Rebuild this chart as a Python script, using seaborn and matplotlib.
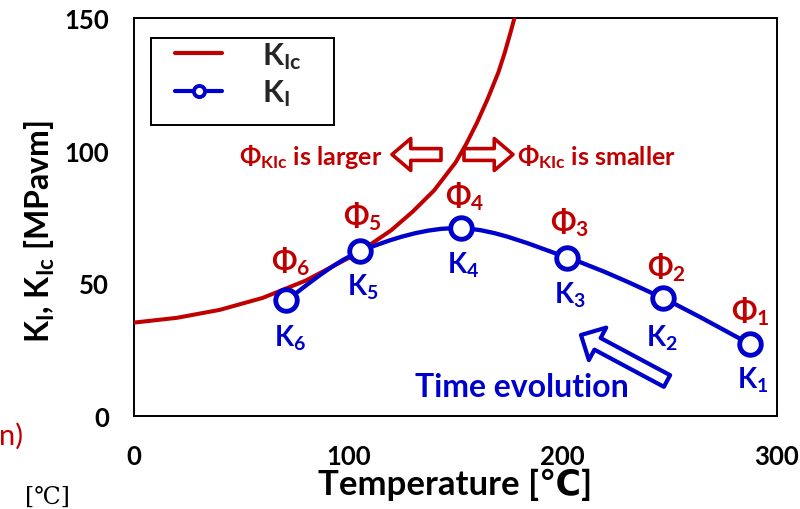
import numpy as np
import pandas as pd
import matplotlib
matplotlib.use("Agg")
import matplotlib.pyplot as plt
import matplotlib.patches as mpatches
from matplotlib.lines import Line2D
from matplotlib.path import Path
import seaborn as sns

# ---------------- data ----------------
kic_temp = [0, 20, 40, 60, 80, 100, 110, 120, 130, 140, 150, 155, 160, 165, 170, 173, 176, 178]
kic_vals = [35.2, 37.0, 40.0, 44.5, 51.0, 59.5, 64.5, 70.0, 77.0, 85.0, 95.5, 102.5, 110.5, 119.5,
            129.5, 137.0, 145.5, 151.5]

ki_temp = [287.6, 247.0, 202.2, 152.5, 105.4, 71.1]   # K1 ... K6
ki_vals = [27.0, 44.3, 59.7, 70.8, 62.0, 43.6]
point_ids = ["1", "2", "3", "4", "5", "6"]

x_ticks = [0, 100, 200, 300]
y_ticks = [0, 50, 100, 150]

# label offsets from each marker (pixels, +y downward)
k_off = [(2, 35), (-2, 39), (2, 37), (2, 36), (2.5, 35), (4, 37)]
phi_off = [(0, -34), (3, -32), (2, -36), (4, -33), (2, -36), (4, -40)]

RED = "#C00000"
BLUE = "#0000CC"
W = "bold"

sns.set_style("white")
plt.rcParams["font.family"] = ["Lato", "DejaVu Sans"]
plt.rcParams["font.weight"] = W
plt.rcParams["mathtext.fontset"] = "custom"
for k in ["rm", "it", "bf", "sf"]:
    plt.rcParams["mathtext." + k] = "Lato:weight=bold"

fig = plt.figure(figsize=(8, 5.1), dpi=100)
ax = fig.add_axes([134 / 800, 1 - 417 / 510, (777 - 134) / 800, (417 - 19) / 510])

# red K_Ic curve
df_kic = pd.DataFrame({"T": kic_temp, "K": kic_vals})
sns.lineplot(data=df_kic, x="T", y="K", color=RED, lw=2.9, ax=ax, sort=True,
             legend=False, zorder=3)

# blue K_I: smoothed connecting curve (Bezier through the data points)
order = np.argsort(ki_temp)
P = np.column_stack([np.array(ki_temp)[order], np.array(ki_vals)[order]])
verts = [tuple(P[0])]
codes = [Path.MOVETO]
n = len(P)
for i in range(n - 1):
    pm = P[i - 1] if i > 0 else P[i]
    pp = P[i + 2] if i + 2 < n else P[i + 1]
    c1 = P[i] + (P[i + 1] - pm) / 6.0
    c2 = P[i + 1] - (pp - P[i]) / 6.0
    verts += [tuple(c1), tuple(c2), tuple(P[i + 1])]
    codes += [Path.CURVE4] * 3
ax.add_patch(mpatches.PathPatch(Path(verts, codes), fill=False, ec=BLUE, lw=3.1,
                                zorder=4, capstyle="round"))

df_ki = pd.DataFrame({"T": ki_temp, "K": ki_vals})
sns.lineplot(data=df_ki, x="T", y="K", ax=ax, sort=False, legend=False,
             linestyle="none", marker="o", markersize=15.5, markerfacecolor="white",
             markeredgecolor=BLUE, markeredgewidth=3.5, color=BLUE, zorder=5)

px = 0.72
for t, v, pid, ko, po in zip(ki_temp, ki_vals, point_ids, k_off, phi_off):
    ax.annotate("K$_{%s}$" % pid, xy=(t, v), xytext=(ko[0] * px, -ko[1] * px),
                textcoords="offset points", ha="center", va="center",
                color=BLUE, fontsize=20, fontweight=W, zorder=6)
    ax.annotate("Φ$_{%s}$" % pid, xy=(t, v), xytext=(po[0] * px, -po[1] * px),
                textcoords="offset points", ha="center", va="center",
                color=RED, fontsize=21.5, fontweight=W, zorder=6)

# axes styling
ax.set_xlim(0, 300)
ax.set_ylim(0, 150)
ax.set_xticks(x_ticks)
ax.set_yticks(y_ticks)
ax.set_xticklabels([str(t) for t in x_ticks])
ax.set_yticklabels([str(t) for t in y_ticks])
for s in ax.spines.values():
    s.set_color("black")
    s.set_linewidth(1.4)
    s.set_visible(True)
ax.tick_params(axis="both", direction="in", length=6.5, width=1.4, labelsize=18.5,
               colors="black")
ax.tick_params(axis="x", pad=20)
ax.tick_params(axis="y", pad=18)
for lab in ax.get_xticklabels() + ax.get_yticklabels():
    lab.set_fontweight(W)

ax.set_xlabel("Temperature [℃]", fontsize=25, fontweight=W, color="black")
ax.xaxis.set_label_coords(0.5, (417 - 469) / 398)
ax.set_ylabel("K$_{I}$, K$_{Ic}$ [MPavm]", fontsize=23, fontweight=W, color="black")
ax.yaxis.set_label_coords((57 - 134) / 643, (417 - 232) / 398)

# legend with its own box
box = mpatches.Rectangle(((150.7 - 134) / 643, (417 - 126) / 398),
                         (334 - 150.7) / 643, (126 - 39.3) / 398,
                         transform=ax.transAxes, fc="white", ec="black", lw=1.4, zorder=7)
ax.add_patch(box)
handles = [Line2D([], [], color=RED, lw=3.0),
           Line2D([], [], color=BLUE, lw=3.0, marker="o", markersize=8,
                  markerfacecolor="white", markeredgecolor=BLUE, markeredgewidth=2.8)]
leg = ax.legend(handles, ["K$_{Ic}$", "K$_{I}$"], loc="upper left",
                bbox_to_anchor=((175 - 134) / 643, (417 - 41) / 398),
                frameon=False, borderpad=0, borderaxespad=0,
                handlelength=1.55, handletextpad=1.3, labelspacing=0.22,
                prop={"weight": W, "size": 22})
leg.set_zorder(8)

# annotations: Phi_KIc larger / smaller with block arrows
ax.text((311 - 134) / 643, (417 - 157) / 398, "Φ$_{KIc}$ is larger", transform=ax.transAxes,
        ha="center", va="center", color=RED, fontsize=18, fontweight=W)
ax.text((596.5 - 134) / 643, (417 - 157) / 398, "Φ$_{KIc}$ is smaller", transform=ax.transAxes,
        ha="center", va="center", color=RED, fontsize=18, fontweight=W)
red_arrow = dict(arrowstyle="simple,head_length=0.27,head_width=0.46,tail_width=0.17",
                 mutation_scale=50, fc="white", ec=RED, lw=2.6, shrinkA=0, shrinkB=0)
ay = (417 - 155.5) / 398
ax.annotate("", xy=((392 - 134) / 643, ay), xytext=((441 - 134) / 643, ay),
            xycoords="axes fraction", textcoords="axes fraction", arrowprops=red_arrow)
ax.annotate("", xy=((513 - 134) / 643, ay), xytext=((464 - 134) / 643, ay),
            xycoords="axes fraction", textcoords="axes fraction", arrowprops=red_arrow)

# time evolution arrow and text
blue_arrow = dict(arrowstyle="simple,head_length=0.27,head_width=0.53,tail_width=0.19",
                  mutation_scale=50, fc="white", ec=BLUE, lw=3.0, shrinkA=0, shrinkB=0)
ax.annotate("", xy=((581 - 134) / 643, (417 - 336) / 398),
            xytext=((667 - 134) / 643, (417 - 382) / 398),
            xycoords="axes fraction", textcoords="axes fraction", arrowprops=blue_arrow)
ax.text((521.7 - 134) / 643, (417 - 388) / 398, "Time evolution", transform=ax.transAxes,
        ha="center", va="center", color=BLUE, fontsize=23, fontweight=W)

# cropped fragments of neighbouring content at the left edge
fig.text(23 / 800, 1 - 436 / 510, "n)", color=RED, ha="right", va="center",
         fontsize=21, fontweight="normal")
fig.text(25 / 800, 1 - 486 / 510, "[℃]", color="black", ha="left", va="top",
         fontsize=17, fontweight="normal", family="DejaVu Serif")

fig.savefig("out.png", dpi=100)
